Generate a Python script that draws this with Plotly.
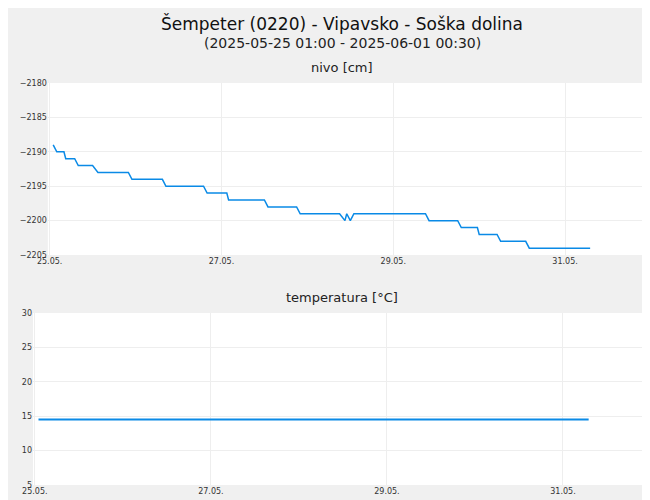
import plotly.graph_objects as go
from plotly.subplots import make_subplots

# water level (nivo) in cm
nivo_t = ["2025-05-25 01:00", "2025-05-25 02:00", "2025-05-25 04:00", "2025-05-25 04:30", "2025-05-25 07:00",
          "2025-05-25 08:00", "2025-05-25 12:00", "2025-05-25 13:30", "2025-05-25 22:00", "2025-05-25 23:00",
          "2025-05-26 07:30", "2025-05-26 08:30", "2025-05-26 19:00", "2025-05-26 20:00", "2025-05-27 01:30",
          "2025-05-27 02:00", "2025-05-27 12:00", "2025-05-27 13:00", "2025-05-27 21:00", "2025-05-27 22:00",
          "2025-05-28 09:00", "2025-05-28 10:30", "2025-05-28 11:00", "2025-05-28 12:00", "2025-05-28 13:00",
          "2025-05-29 09:00", "2025-05-29 10:00", "2025-05-29 18:00", "2025-05-29 19:00", "2025-05-29 23:30",
          "2025-05-30 00:00", "2025-05-30 05:00", "2025-05-30 06:00", "2025-05-30 13:00", "2025-05-30 14:00",
          "2025-05-31 07:00"]
nivo_v = [-2189, -2190, -2190, -2191, -2191,
          -2192, -2192, -2193, -2193, -2194,
          -2194, -2195, -2195, -2196, -2196,
          -2197, -2197, -2198, -2198, -2199,
          -2199, -2200, -2199, -2200, -2199,
          -2199, -2200, -2200, -2201, -2201,
          -2202, -2202, -2203, -2203, -2204,
          -2204]

temp_t = ["2025-05-25 01:00", "2025-05-31 07:00"]
temp_v = [14.5, 14.5]

blue = "#0a8ae6"
font = "DejaVu Sans"

fig = make_subplots(rows=2, cols=1, vertical_spacing=0.144)
fig.add_trace(go.Scatter(x=nivo_t, y=nivo_v, mode="lines", line=dict(color=blue, width=1.5)), row=1, col=1)
fig.add_trace(go.Scatter(x=temp_t, y=temp_v, mode="lines", line=dict(color=blue, width=2)), row=2, col=1)

xr = ["2025-05-24 23:30", "2025-06-01 00:00"]
for r, dom in [(1, [0.024, 1]), (2, [0, 1])]:
    fig.update_xaxes(row=r, col=1, type="date", range=xr, domain=dom, automargin=False,
                     tick0="2025-05-25", dtick=2 * 86400000, tickformat="%d.%m.",
                     showgrid=True, gridcolor="#eeeeee", zeroline=False,
                     tickfont=dict(size=8, color="#333"))
fig.update_yaxes(row=1, col=1, range=[-2205, -2180], dtick=5, gridcolor="#eeeeee", automargin=False,
                 zeroline=False, tickfont=dict(size=8, color="#333"))
fig.update_yaxes(row=2, col=1, range=[5, 30], dtick=5, gridcolor="#eeeeee", automargin=False,
                 zeroline=False, tickfont=dict(size=8, color="#333"))

fig.update_layout(
    width=650, height=500, showlegend=False,
    paper_bgcolor="#f0f0f0", plot_bgcolor="white",
    font=dict(family=font, color="#222"),
    margin=dict(l=25, r=7, t=75, b=23),
    annotations=[
        dict(text="Šempeter (0220) - Vipavsko - Soška dolina", x=0.5, y=1, xref="paper", yref="paper",
             yshift=72, showarrow=False, yanchor="top", font=dict(size=17, color="#111")),
        dict(text="(2025-05-25 01:00 - 2025-06-01 00:30)", x=0.5, y=1, xref="paper", yref="paper",
             yshift=50, showarrow=False, yanchor="top", font=dict(size=14, color="#222")),
        dict(text="nivo [cm]", x=0.5, y=1, xref="paper", yref="paper", yshift=6,
             showarrow=False, yanchor="bottom", font=dict(size=13, color="#222")),
        dict(text="temperatura [°C]", x=0.5, y=0.428, xref="paper", yref="paper", yshift=6,
             showarrow=False, yanchor="bottom", font=dict(size=13, color="#222")),
    ],
)
fig.write_html("out.html")
